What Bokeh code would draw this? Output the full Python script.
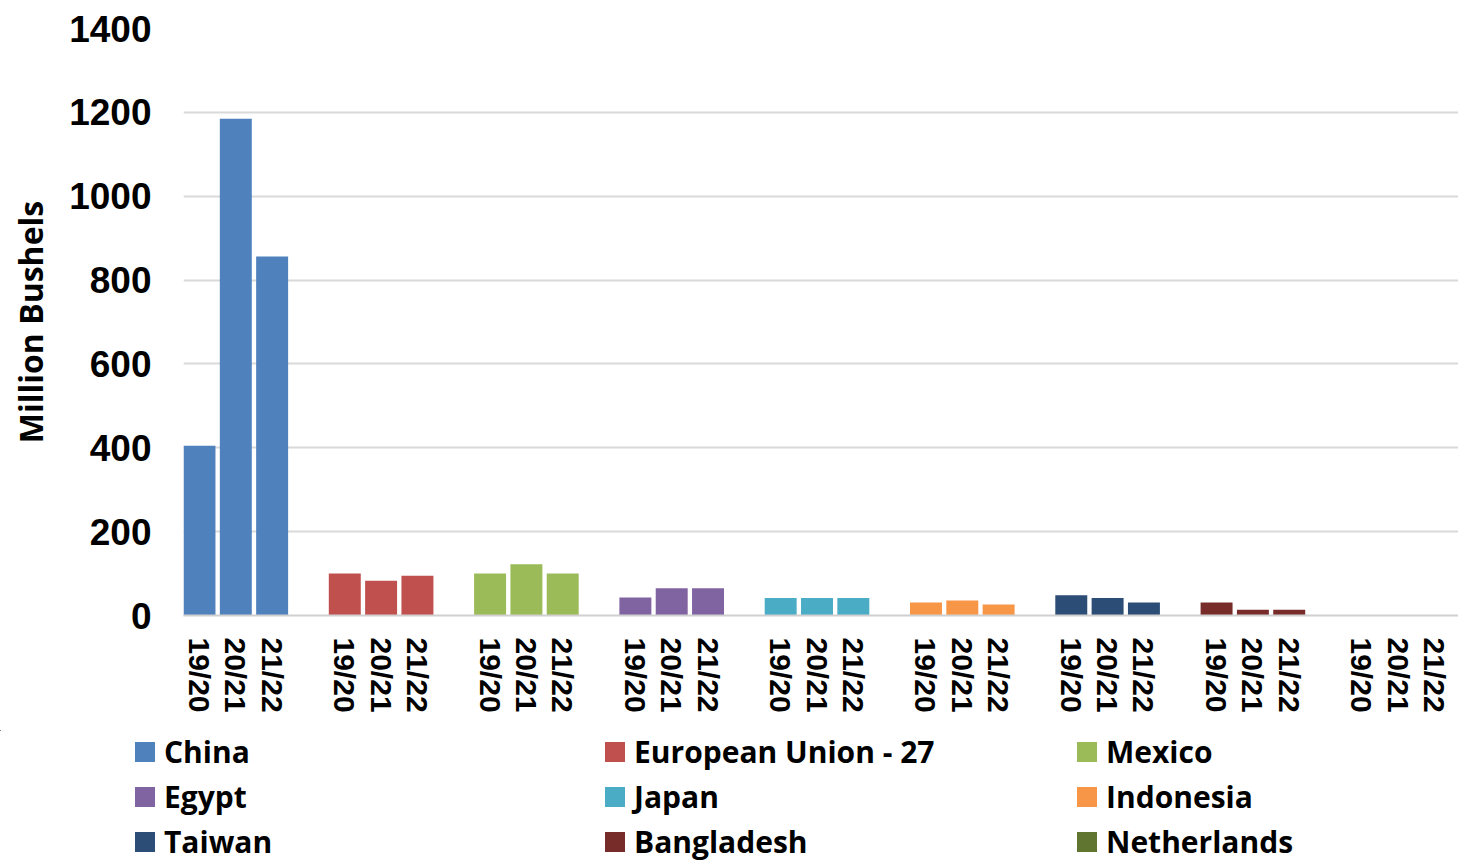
from bokeh.plotting import figure
from bokeh.models import Legend, LegendItem, FixedTicker, Range1d
from bokeh.layouts import column, row
from bokeh.embed import file_html
from bokeh.resources import INLINE

countries = ["China", "European Union - 27", "Mexico", "Egypt", "Japan",
             "Indonesia", "Taiwan", "Bangladesh", "Netherlands"]
years = ["19/20", "20/21", "21/22"]
china = [405, 1185, 856]
eu27 = [100, 83, 95]
mexico = [100, 122, 100]
egypt = [43, 65, 65]
japan = [42, 42, 42]
indonesia = [31, 36, 26]
taiwan = [48, 42, 31]
bangladesh = [31, 14, 14]
netherlands = [0, 0, 0]
series = [china, eu27, mexico, egypt, japan, indonesia, taiwan, bangladesh, netherlands]
colors = ["#4f81bd", "#c0504d", "#9bbb59", "#8064a2", "#4bacc6",
          "#f79646", "#2c4d75", "#772c2a", "#5f7530"]
y_ticks = [0, 200, 400, 600, 800, 1000, 1200, 1400]

p = figure(width=1458, height=730, output_backend="svg", toolbar_location=None,
           x_range=Range1d(-0.44, 34.66), y_range=Range1d(0, 1400))
p.min_border_left = 183
p.min_border_right = 0
p.min_border_top = 28
p.min_border_bottom = 115
p.outline_line_color = None

for gi, (name, vals, col) in enumerate(zip(countries, series, colors)):
    xs = [gi * 4 + j for j in range(len(years))]
    p.vbar(x=xs, top=vals, width=0.88, fill_color=col, line_color=None)

ticks = []
overrides = {}
for gi in range(len(countries)):
    for j, yl in enumerate(years):
        t = gi * 4 + j
        ticks.append(t)
        overrides[t] = yl

xa = p.xaxis[0]
xa.ticker = FixedTicker(ticks=ticks)
xa.major_label_overrides = overrides
xa.major_label_orientation = "vertical"
xa.major_label_text_font = "Liberation Sans"
xa.major_label_text_font_style = "bold"
xa.major_label_text_font_size = "30px"
xa.major_label_text_color = "black"
xa.major_label_standoff = 16
xa.major_tick_line_color = None
xa.minor_tick_line_color = None
xa.axis_line_color = "#d0d0d0"
xa.axis_line_width = 2

ya = p.yaxis[0]
ya.ticker = FixedTicker(ticks=y_ticks)
ya.axis_label = "Million Bushels"
ya.axis_label_text_font = "Open Sans"
ya.axis_label_text_font_style = "bold"
ya.axis_label_text_font_size = "32px"
ya.axis_label_text_color = "black"
ya.axis_label_standoff = 14
ya.major_label_text_font = "Liberation Sans"
ya.major_label_text_font_style = "bold"
ya.major_label_text_font_size = "37px"
ya.major_label_text_color = "black"
ya.major_label_standoff = 26
ya.major_tick_line_color = None
ya.minor_tick_line_color = None
ya.axis_line_color = None

p.xgrid.grid_line_color = None
p.ygrid.grid_line_color = "#d9d9d9"
p.ygrid.grid_line_width = 2
p.ygrid.ticker = FixedTicker(ticks=y_ticks)

# legend panel: proxies share the real data but lie outside this panel's ranges
pl = figure(width=1458, height=132, output_backend="svg", toolbar_location=None,
            x_range=Range1d(1000, 1001), y_range=Range1d(-2000, -1999),
            x_axis_location=None, y_axis_location=None)
pl.min_border_left = 0
pl.min_border_right = 0
pl.min_border_top = 0
pl.min_border_bottom = 0
pl.outline_line_color = None
pl.xgrid.grid_line_color = None
pl.ygrid.grid_line_color = None

legend_renderers = []
for gi, (vals, col) in enumerate(zip(series, colors)):
    xs = [gi * 4 + j for j in range(len(years))]
    legend_renderers.append(pl.vbar(x=xs, top=vals, width=0.88, fill_color=col, line_color=None))

col_x = [132, 602, 1074]
for c in range(3):
    items = [LegendItem(label=countries[c + 3 * r], renderers=[legend_renderers[c + 3 * r]])
             for r in range(3)]
    lg = Legend(items=items, location=(col_x[c], 0), orientation="vertical")
    lg.glyph_width = 25
    lg.glyph_height = 25
    lg.label_standoff = 7
    lg.label_height = 30
    lg.spacing = 4
    lg.padding = 0
    lg.margin = 0
    lg.border_line_color = None
    lg.background_fill_alpha = 0
    lg.label_text_font = "Open Sans"
    lg.label_text_font_style = "bold"
    lg.label_text_font_size = "30px"
    lg.label_text_color = "black"
    lg.label_text_baseline = "middle"
    pl.add_layout(lg, "center")

layout = column(p, row(pl), spacing=0)
open("out.html", "w").write(file_html(layout, INLINE))
